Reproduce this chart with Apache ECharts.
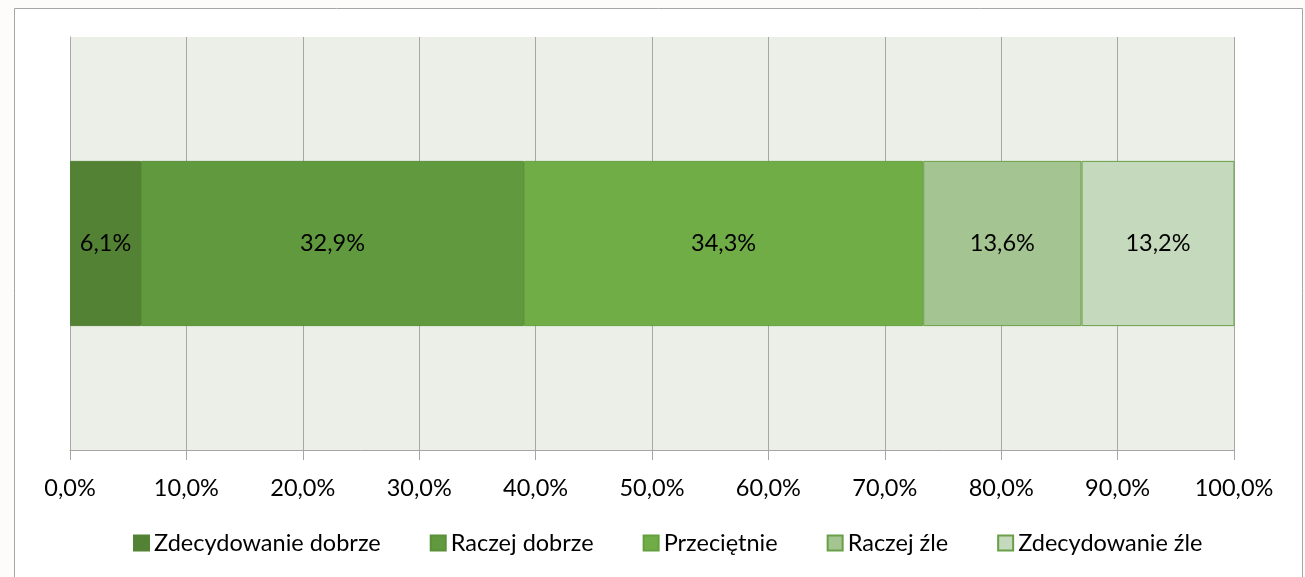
<!DOCTYPE html>
<html><head><meta charset="utf-8">
<script src="https://cdn.jsdelivr.net/npm/echarts@6/dist/echarts.min.js"></script>
<style>html,body{margin:0;padding:0;background:#fdfcfa;}#c{width:1305px;height:577px;}</style>
</head><body><div id="c"></div>
<script>
const seriesNames = ['Zdecydowanie dobrze','Raczej dobrze','Przeciętnie','Raczej źle','Zdecydowanie źle'];
const seriesValues = [6.1, 32.9, 34.3, 13.6, 13.2];
const categories = [''];
const colors = ['#548235','#619a3e','#70ad47','#a4c591','#c5d9bc'];
const borders = ['#548235','#5a9038','#64a03e','#6a9f48','#6a9f48'];
const FONT = 'Lato';
const FS = 23.5;
const chart = echarts.init(document.getElementById('c'));
chart.setOption({
  backgroundColor: 'transparent',
  animation: false,
  textStyle: {fontFamily: FONT},
  graphic: [{type:'rect', shape:{x:14.5,y:8.5,width:1288,height:600}, style:{fill:'#ffffff', stroke:'#a6a6a6', lineWidth:1}, z:-10, silent:true}],
  grid: {left:70, right:71, top:37, bottom:127, show:true, backgroundColor:'#ebefe7', borderWidth:0},
  legend: {
    top: 526, left: 128, icon: 'rect', itemWidth: 15, itemHeight: 15, itemGap: 49,
    textStyle: {fontFamily: FONT, fontSize: FS, color: '#000'},
    data: seriesNames
  },
  xAxis: {
    type: 'value', min: 0, max: 100, interval: 10,
    axisLine: {show:true, lineStyle:{color:'#a6a6a6'}},
    axisTick: {show:true, length:10, lineStyle:{color:'#a6a6a6'}},
    splitLine: {show:true, lineStyle:{color:'#a6a6a6', width:1}},
    axisLabel: {fontFamily: FONT, fontSize: FS, color:'#000', margin: 26,
      formatter: v => v.toFixed(1).replace('.', ',') + '%'}
  },
  yAxis: {
    type: 'category', data: categories,
    axisLine: {show:true, lineStyle:{color:'#a6a6a6'}},
    axisTick: {show:false}, axisLabel: {show:false}
  },
  series: seriesNames.map((n,i) => ({
    name: n, type: 'bar', stack: 'total', barWidth: '40%',
    data: [seriesValues[i]],
    itemStyle: {color: colors[i], borderColor: borders[i], borderWidth: 1},
    label: {show: true, position: 'inside', fontFamily: FONT, fontSize: FS, color: '#000',
      formatter: p => p.value.toFixed(1).replace('.', ',') + '%'}
  }))
});
</script></body></html>
